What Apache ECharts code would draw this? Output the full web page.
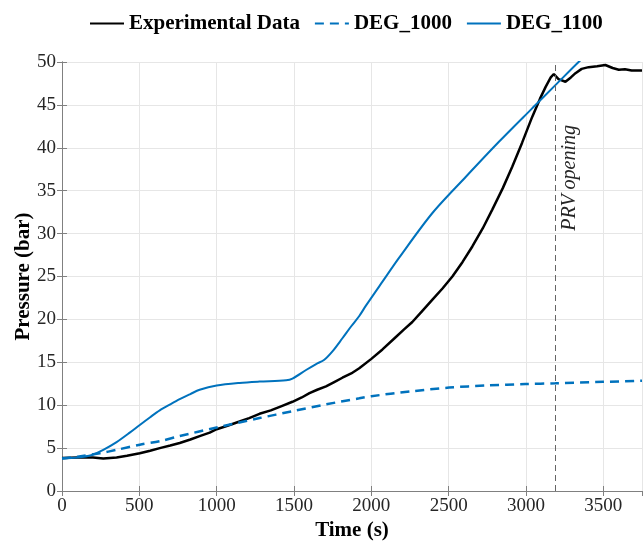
<!DOCTYPE html>
<html>
<head>
<meta charset="utf-8">
<script src="https://cdn.jsdelivr.net/npm/echarts@6/dist/echarts.min.js"></script>
<style>
    html, body { margin: 0; padding: 0; background: #fff; }
    #mychart { width: 643px; height: 543px; }
</style>
</head>
<body>
<div id="mychart"></div>
<script>
    // values
    const expTime = [0, 100, 200, 267, 353, 420, 503, 570, 632, 700, 761, 830, 890, 955, 1000, 1070, 1148, 1210, 1277, 1350, 1420, 1490, 1550, 1600, 1650, 1707, 1760, 1813, 1870, 1922, 2000, 2072, 2150, 2210, 2265, 2330, 2395, 2460, 2524, 2590, 2653, 2720, 2782, 2850, 2911, 2975, 3040, 3090, 3127, 3160, 3180, 3210, 3255, 3290, 3320, 3360, 3405, 3460, 3513, 3560, 3600, 3640, 3683, 3750];
    const expPressure = [3.85, 3.9, 3.9, 3.8, 3.9, 4.1, 4.4, 4.7, 5.0, 5.3, 5.6, 6.0, 6.4, 6.8, 7.2, 7.6, 8.1, 8.5, 9.0, 9.4, 9.9, 10.4, 10.9, 11.4, 11.8, 12.2, 12.7, 13.2, 13.7, 14.3, 15.4, 16.5, 17.8, 18.8, 19.7, 21.0, 22.3, 23.6, 25.0, 26.7, 28.5, 30.6, 32.8, 35.3, 37.8, 40.6, 43.6, 45.7, 47.1, 48.2, 48.6, 48.0, 47.7, 48.2, 48.7, 49.2, 49.4, 49.5, 49.65, 49.3, 49.1, 49.15, 49.0, 49.0];

    const deg1000Time = [0, 100, 245, 353, 503, 632, 761, 1000, 1277, 1490, 1707, 1922, 2000, 2250, 2503, 2750, 2997, 3190, 3500, 3750];
    const deg1000Pressure = [3.8, 4.0, 4.4, 4.8, 5.4, 5.8, 6.4, 7.4, 8.5, 9.3, 10.1, 10.8, 11.05, 11.6, 12.05, 12.3, 12.47, 12.55, 12.72, 12.86];

    const deg1100Time = [0, 100, 193, 267, 353, 438, 503, 570, 632, 700, 761, 830, 890, 1000, 1148, 1277, 1449, 1490, 1578, 1643, 1696, 1750, 1813, 1870, 1922, 1965, 2072, 2180, 2395, 2610, 2825, 3040, 3190, 3340, 3400];
    const deg1100Pressure = [3.8, 3.9, 4.2, 4.8, 5.7, 6.8, 7.7, 8.6, 9.4, 10.1, 10.7, 11.3, 11.8, 12.3, 12.6, 12.75, 12.9, 13.1, 14.1, 14.8, 15.3, 16.3, 17.8, 19.2, 20.4, 21.6, 24.4, 27.2, 32.4, 36.6, 40.7, 44.6, 47.3, 50.0, 51.0];

    const prvTime = 3190;
    const prvLabelPressure = 36.5;

    const seriesNames = ["Experimental Data", "DEG_1000", "DEG_1100"];

    function pairs(xs, ys) {
        return xs.map((x, i) => [x, ys[i]]);
    }

    const serif = "Liberation Serif";
    const axisGray = "#808080";
    const blue = "#0072BD";

    let chart = echarts.init(document.getElementById("mychart"));

    const hiddenAxis = {
        axisLine: { show: true, lineStyle: { color: axisGray, width: 1 } },
        axisTick: { show: true, inside: true, length: 5, lineStyle: { color: axisGray } },
        axisLabel: { show: false },
        splitLine: { show: false }
    };

    chart.setOption({
        animation: false,
        backgroundColor: "#fff",
        grid: { left: 62, right: 1, top: 62, bottom: 52, containLabel: false, outerBoundsMode: "none" },
        legend: {
            top: 8,
            left: 84,
            itemWidth: 34,
            itemHeight: 10,
            itemGap: 14,
            itemStyle: { opacity: 0 },
            data: seriesNames,
            textStyle: { fontFamily: serif, fontWeight: "bold", fontSize: 21, color: "#000" }
        },
        xAxis: [{
            type: "value",
            min: 0,
            max: 3750,
            interval: 500,
            name: "Time (s)",
            nameLocation: "middle",
            nameGap: 29,
            nameMoveOverlap: false,
            nameTextStyle: { fontFamily: serif, fontWeight: "bold", fontSize: 21, color: "#000" },
            axisLine: { show: true, lineStyle: { color: axisGray } },
            axisTick: { show: true, inside: true, length: 5, lineStyle: { color: axisGray } },
            axisLabel: {
                fontFamily: serif, fontSize: 19, color: "#262626", margin: 6,
                showMaxLabel: false,
                formatter: v => String(v)
            },
            splitLine: { show: true, lineStyle: { color: "#e6e6e6" } }
        }, Object.assign({
            type: "value", position: "top", min: 0, max: 3750, interval: 500
        }, hiddenAxis)],
        yAxis: [{
            type: "value",
            min: 0,
            max: 50,
            interval: 5,
            name: "Pressure (bar)",
            nameLocation: "middle",
            nameGap: 28,
            nameMoveOverlap: false,
            nameTextStyle: { fontFamily: serif, fontWeight: "bold", fontSize: 21, color: "#000" },
            axisLine: { show: true, lineStyle: { color: axisGray } },
            axisTick: { show: true, inside: true, length: 5, lineStyle: { color: axisGray } },
            axisLabel: { fontFamily: serif, fontSize: 19, color: "#262626", margin: 6 },
            splitLine: { show: true, lineStyle: { color: "#e6e6e6" } }
        }, Object.assign({
            type: "value", position: "right", min: 0, max: 50, interval: 5
        }, hiddenAxis)],
        series: [
            {
                name: seriesNames[0],
                type: "line",
                data: pairs(expTime, expPressure),
                showSymbol: false,
                symbol: "none",
                clip: true,
                lineStyle: { color: "#000", width: 2.5 },
                itemStyle: { color: "#000" },
                z: 3,
                markLine: {
                    silent: true,
                    symbol: "none",
                    label: { show: false },
                    lineStyle: { color: "#666", type: [6, 4], width: 1 },
                    data: [{ xAxis: prvTime }]
                }
            },
            {
                name: seriesNames[1],
                type: "line",
                data: pairs(deg1000Time, deg1000Pressure),
                showSymbol: false,
                symbol: "none",
                smooth: 0.3,
                clip: true,
                lineStyle: { color: blue, width: 2.5, type: [9, 6] },
                itemStyle: { color: blue }
            },
            {
                name: seriesNames[2],
                type: "line",
                data: pairs(deg1100Time, deg1100Pressure),
                showSymbol: false,
                symbol: "none",
                smooth: 0.3,
                clip: true,
                lineStyle: { color: blue, width: 2 },
                itemStyle: { color: blue }
            }
        ]
    });

    // PRV opening label, placed through the chart's own scale
    const labelPos = chart.convertToPixel({ xAxisIndex: 0, yAxisIndex: 0 }, [prvTime, prvLabelPressure]);
    chart.setOption({
        graphic: [{
            type: "text",
            x: labelPos[0] + 14,
            y: labelPos[1],
            rotation: Math.PI / 2,
            style: {
                text: "PRV opening",
                font: "italic 20px " + serif,
                fill: "#262626",
                align: "center",
                verticalAlign: "middle"
            }
        }]
    });
</script>
</body>
</html>
